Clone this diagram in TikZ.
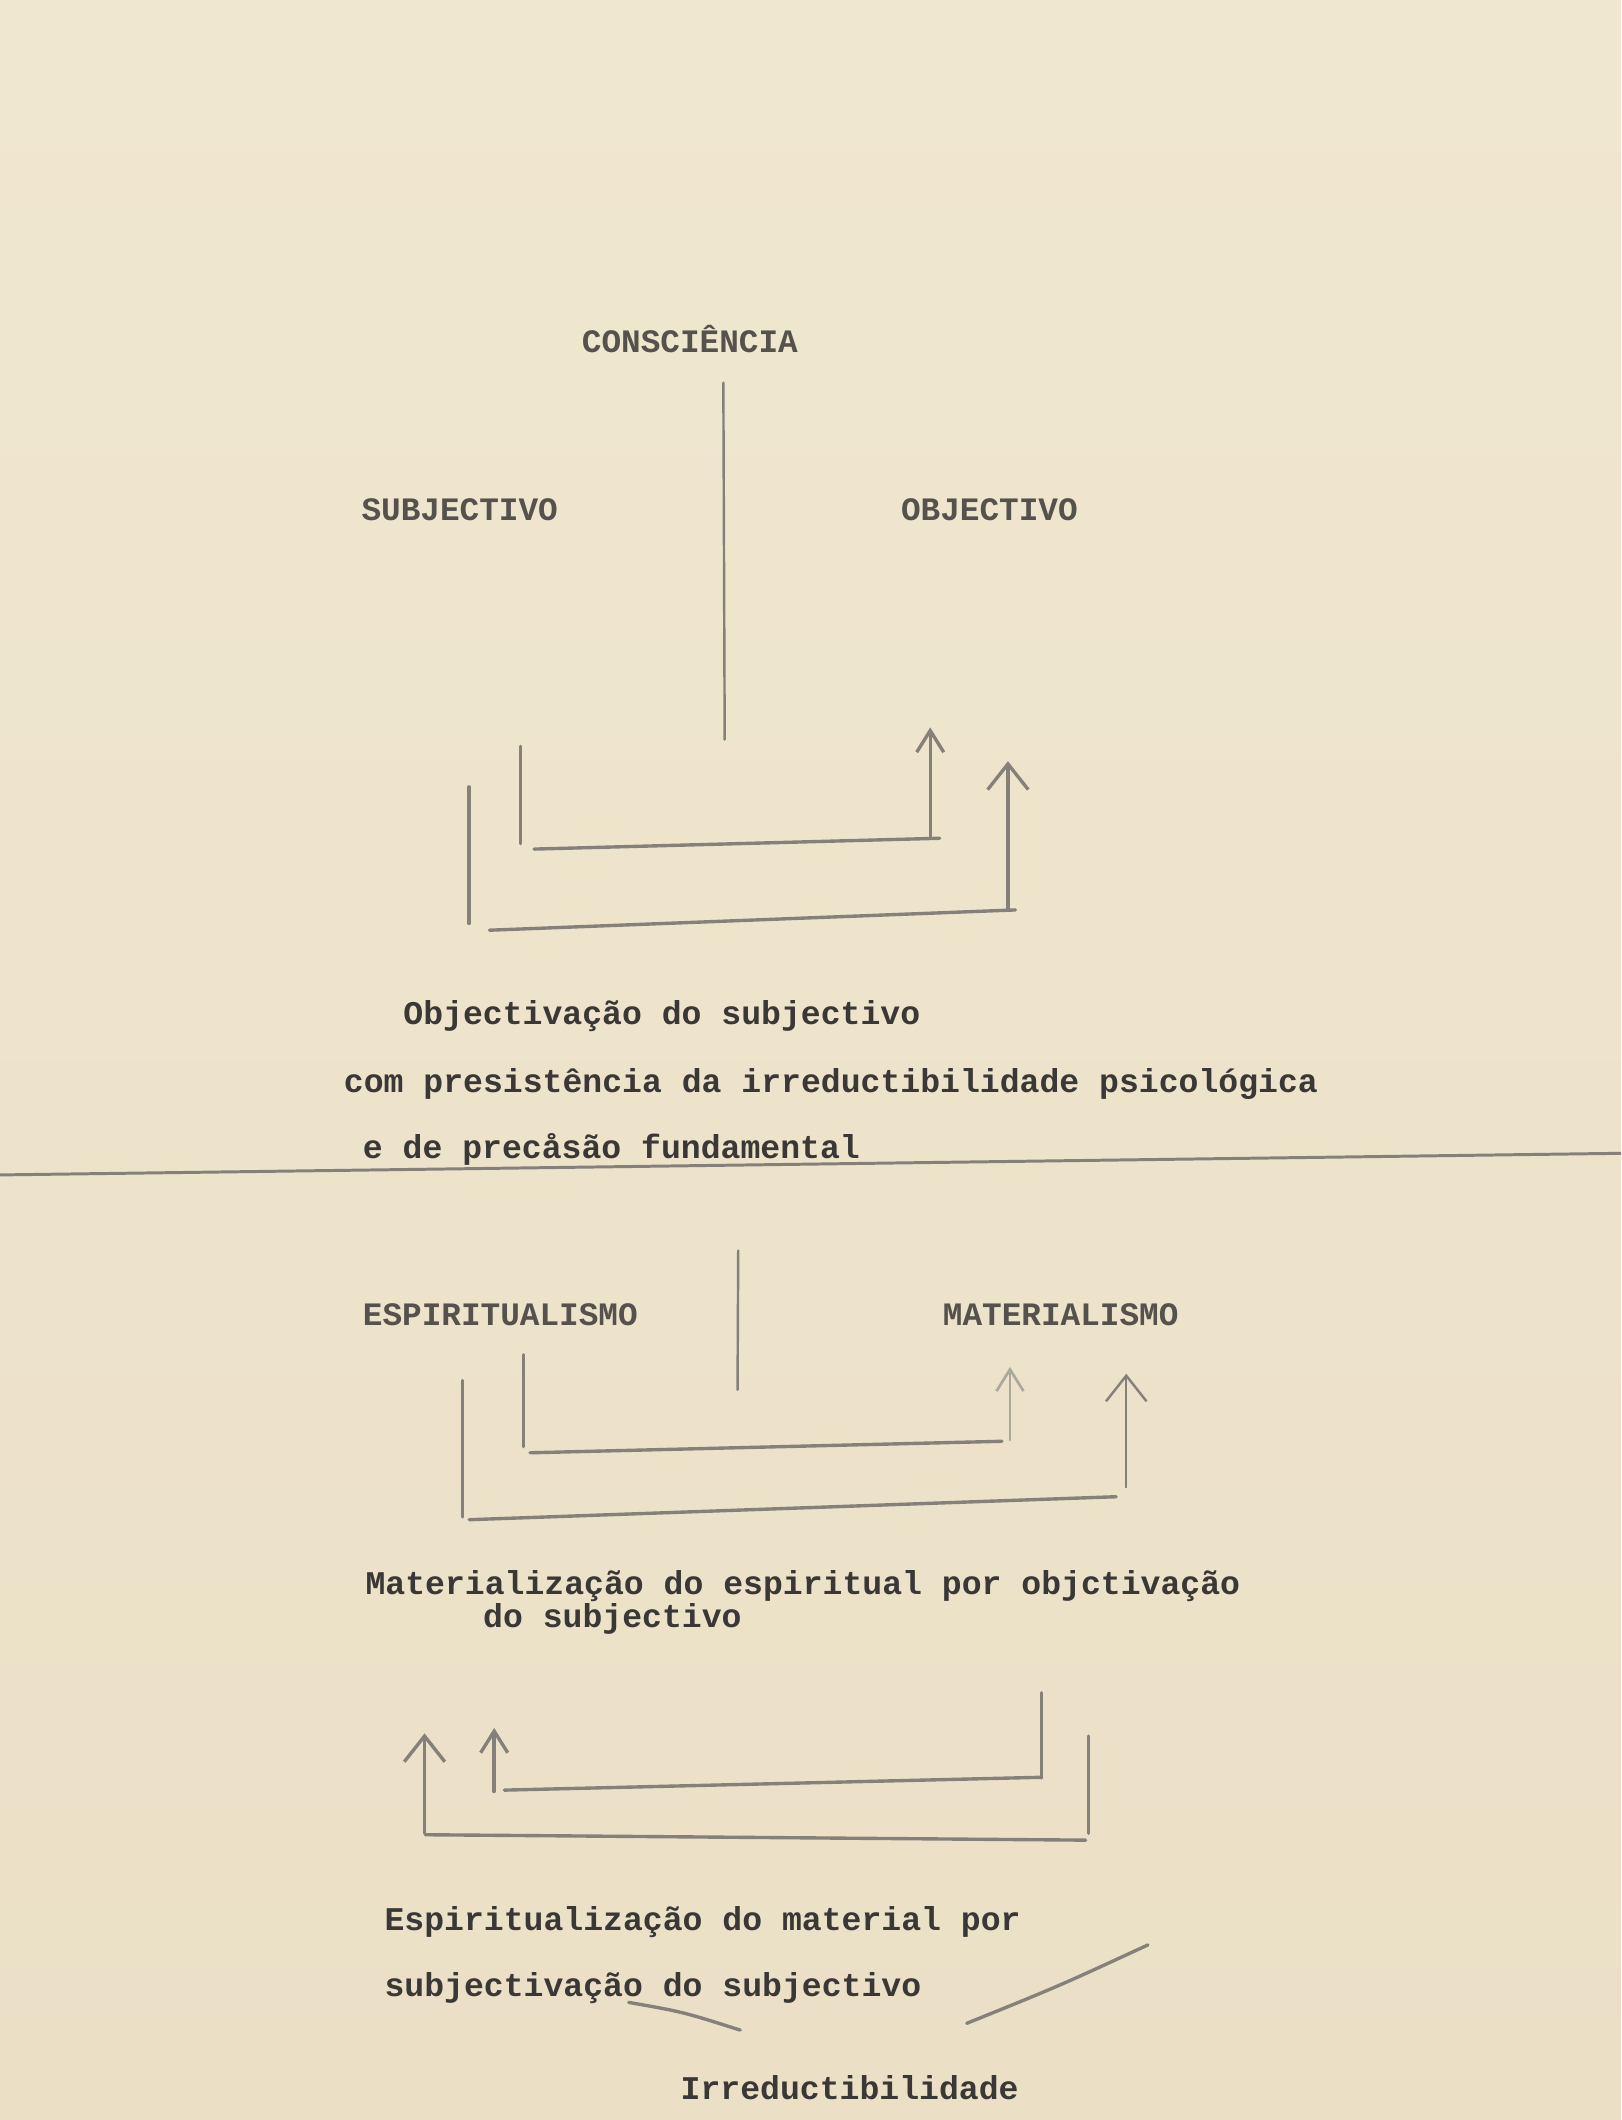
\documentclass[tikz,border=0pt]{standalone}
\usepackage{fontspec}
\newfontfamily\typew{Liberation Mono}
\usetikzlibrary{arrows.meta}
\definecolor{paper}{HTML}{F0E7D0}
\definecolor{paperdark}{HTML}{EBE0C6}
\definecolor{ink}{HTML}{3A3836}
\definecolor{inkcaps}{HTML}{55524E}
\definecolor{pencil}{HTML}{85817A}
\definecolor{pencilfaint}{HTML}{ADA89E}
\tikzset{
  txt/.style={anchor=base west, inner sep=0pt, text=ink,
    font=\typew\bfseries\fontsize{12.25pt}{14pt}\selectfont},
  capstxt/.style={anchor=base west, inner sep=0pt, text=inkcaps,
    font=\typew\bfseries\fontsize{12.1pt}{14pt}\selectfont},
  pen/.style={draw=pencil, line width=1.25pt, line cap=round},
  thinpen/.style={draw=pencil, line width=0.9pt, line cap=round},
  faintpen/.style={draw=pencilfaint, line width=1.0pt, line cap=round},
  arr/.style={-{Straight Barb[length=8pt,width=10pt]}},
  bigarr/.style={-{Straight Barb[length=9.5pt,width=15pt]}},
}
\begin{document}
\begin{tikzpicture}[x=0.5pt,y=-0.5pt]
\shade[top color=paper, bottom color=paperdark, use as bounding box] (0,0) rectangle (1199,1568);

% ---------- section 1 ----------
\node[capstxt] (consc) at (430,261) {CONSCIÊNCIA};
\node[capstxt] (subj) at (267,385) {SUBJECTIVO};
\node[capstxt] (obj) at (666,385) {OBJECTIVO};
\coordinate (a1) at (535,283);
\coordinate (a2) at (536,547);
\draw[thinpen] (a1) -- (a2);

\coordinate (i1a) at (385,552);
\coordinate (i1b) at (385,624);
\coordinate (i1c) at (395,628);
\coordinate (i1d) at (695,620);
\coordinate (i1e) at (688,620);
\coordinate (i1f) at (688,538);
\draw[pen] (i1a) -- (i1b);
\draw[pen] (i1c) -- (i1d);
\draw[pen,arr] (i1e) -- (i1f);

\coordinate (o1a) at (347,582);
\coordinate (o1b) at (347,683);
\coordinate (o1c) at (362,688);
\coordinate (o1d) at (751,673);
\coordinate (o1e) at (745.5,673);
\coordinate (o1f) at (745.5,563);
\draw[pen] (o1a) -- (o1b);
\draw[pen] (o1c) -- (o1d);
\draw[pen,bigarr] (o1e) -- (o1f);

\node[txt] (t1) at (298,758) {Objectivação do subjectivo};
\node[txt] (t2) at (254,808) {com presistência da irreductibilidade psicológica};
\node[txt] (t3) at (268,857) {e de precåsão fundamental};

% divider
\coordinate (d1) at (0,869);
\coordinate (d2) at (1199,853);
\draw[draw=pencil, line width=1.1pt] (d1) -- (d2);

% ---------- section 2 ----------
\node[capstxt] (esp) at (268,980) {ESPIRITUALISMO};
\node[capstxt] (mat) at (697,980) {MATERIALISMO};
\coordinate (b1) at (546,925);
\coordinate (b2) at (545.5,1028);
\draw[thinpen] (b1) -- (b2);

\coordinate (i2a) at (387,1002);
\coordinate (i2b) at (387,1070);
\coordinate (i2c) at (392,1074.5);
\coordinate (i2d) at (741,1066);
\coordinate (i2e) at (747,1065);
\coordinate (i2f) at (747,1011);
\draw[pen] (i2a) -- (i2b);
\draw[pen] (i2c) -- (i2d);
\draw[faintpen,arr] (i2e) -- (i2f);

\coordinate (o2a) at (342,1021);
\coordinate (o2b) at (342,1122);
\coordinate (o2c) at (347,1124);
\coordinate (o2d) at (825.5,1107);
\coordinate (o2e) at (833,1100);
\coordinate (o2f) at (833,1016);
\draw[pen] (o2a) -- (o2b);
\draw[pen] (o2c) -- (o2d);
\draw[thinpen,bigarr] (o2e) -- (o2f);

\node[txt] (t4) at (270,1179) {Materialização do espiritual por objctivação};
\node[txt] (t5) at (357,1204) {do subjectivo};

% ---------- section 3 ----------
\coordinate (i3a) at (770.5,1252);
\coordinate (i3b) at (770.5,1315);
\coordinate (i3c) at (373,1324);
\coordinate (i3d) at (770.5,1314.5);
\coordinate (i3e) at (365.5,1325);
\coordinate (i3f) at (365.5,1278);
\draw[pen] (i3a) -- (i3b);
\draw[pen] (i3c) -- (i3d);
\draw[pen,arr] (i3e) -- (i3f);

\coordinate (o3a) at (805,1284);
\coordinate (o3b) at (805,1356);
\coordinate (o3c) at (314.5,1357);
\coordinate (o3d) at (803,1361);
\coordinate (o3e) at (314,1356);
\coordinate (o3f) at (314,1282);
\draw[pen] (o3a) -- (o3b);
\draw[pen] (o3c) -- (o3d);
\draw[pen,bigarr] (o3e) -- (o3f);

\node[txt] (t6) at (284,1428) {Espiritualização do material por};
\node[txt] (t7) at (284,1477) {subjectivação do subjectivo};

\coordinate (s1a) at (465,1481);
\coordinate (s1b) at (547.5,1501.5);
\draw[pen] (s1a) .. controls (505,1488) .. (s1b);
\coordinate (s2a) at (715,1496.5);
\coordinate (s2b) at (849,1438.5);
\draw[pen] (s2a) .. controls (783,1469) .. (s2b);

\node[txt] (t8) at (503,1553) {Irreductibilidade};
\end{tikzpicture}
\end{document}
